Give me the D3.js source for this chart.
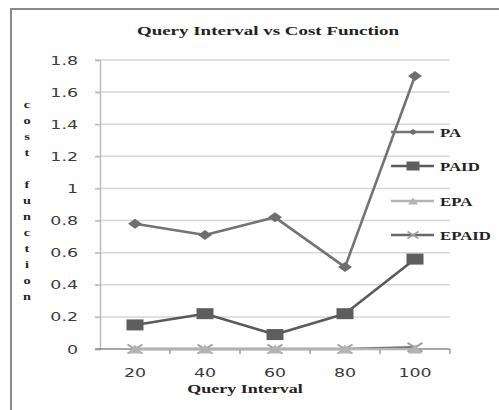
<!DOCTYPE html>
<html>
<head>
<meta charset="utf-8">
<script src="https://cdn.jsdelivr.net/npm/d3@7"></script>
<style>
  html, body { margin: 0; padding: 0; background: #fff; }
  svg { display: block; }
</style>
</head>
<body>
<script>
// Query interval categories and cost function values per algorithm
const categories = ["20", "40", "60", "80", "100"];
const seriesNames = ["PA", "PAID", "EPA", "EPAID"];
const valuesPA    = [0.78, 0.71, 0.82, 0.51, 1.70];
const valuesPAID  = [0.15, 0.22, 0.09, 0.22, 0.56];
const valuesEPA   = [0.00, 0.00, 0.00, 0.00, 0.00];
const valuesEPAID = [0.00, 0.00, 0.00, 0.00, 0.01];
const yTicks = [0, 0.2, 0.4, 0.6, 0.8, 1, 1.2, 1.4, 1.6, 1.8];
const yTickLabels = ["0", "0.2", "0.4", "0.6", "0.8", "1", "1.2", "1.4", "1.6", "1.8"];
const titleText = "Query Interval vs Cost Function";
const xTitleText = "Query Interval";
const yTitleText = "cost function";

const W = 499, H = 410;
const plot = { left: 100, right: 450, top: 60, bottom: 349 };
const SX = 1.45; // horizontal stretch of all lettering

const svg = d3.select("body").append("svg").attr("width", W).attr("height", H);

// outer frame
svg.append("rect").attr("x", 11).attr("y", 9).attr("width", 500).attr("height", 420)
  .attr("fill", "#fff").attr("stroke", "#8a8a8a").attr("stroke-width", 2);

const x = d3.scaleBand().domain(categories).range([plot.left, plot.right]);
const y = d3.scaleLinear().domain([0, 1.8]).range([plot.bottom, plot.top]);

function label(g, tx, ty, str, opts) {
  return g.append("text")
    .attr("transform", `translate(${tx},${ty}) scale(${opts.sx || SX},1)`)
    .attr("text-anchor", opts.anchor || "middle")
    .attr("font-family", opts.family)
    .attr("font-size", opts.size)
    .attr("font-weight", opts.weight || "normal")
    .attr("fill", opts.fill || "#222")
    .text(str);
}

// gridlines
svg.append("g").selectAll("line").data(yTicks.slice(1)).join("line")
  .attr("x1", plot.left - 5).attr("x2", plot.right)
  .attr("y1", d => y(d)).attr("y2", d => y(d))
  .attr("stroke", "#d6d6d6").attr("stroke-width", 1.5);

// y axis
const yAxis = svg.append("g").attr("transform", `translate(${plot.left},0)`)
  .call(d3.axisLeft(y).tickValues(yTicks).tickSize(5).tickFormat(""));
yAxis.select(".domain").attr("stroke", "#bdbdbd").attr("stroke-width", 1.5);
yAxis.selectAll(".tick line").attr("stroke", "#bdbdbd").attr("stroke-width", 1.5);

// x axis with ticks on category boundaries
const xAxisG = svg.append("g").attr("transform", `translate(0,${plot.bottom})`);
xAxisG.append("line").attr("x1", plot.left - 5).attr("x2", plot.right)
  .attr("stroke", "#8a8a8a").attr("stroke-width", 1.5);
xAxisG.selectAll("line.tk").data(categories).join("line").attr("class", "tk")
  .attr("x1", d => x(d) + x.bandwidth()).attr("x2", d => x(d) + x.bandwidth())
  .attr("y1", 0).attr("y2", 5).attr("stroke", "#8a8a8a").attr("stroke-width", 1.2);

// tick labels
const tickFont = { family: "DejaVu Sans", size: 12, fill: "#3a3a3a" };
yTicks.forEach((v, i) => {
  label(svg, 78, y(v) + 4.5, yTickLabels[i], Object.assign({ anchor: "end" }, tickFont));
});
categories.forEach(c => {
  label(svg, x(c) + x.bandwidth() / 2, 377, c, tickFont);
});

// titles
const serif = "Liberation Serif";
label(svg, 268, 35, titleText, { family: serif, size: 12, weight: "bold", fill: "#222", sx: 1.58 });
label(svg, 245, 393, xTitleText, { family: serif, size: 12, weight: "bold", fill: "#222", sx: 1.5 });
yTitleText.split("").forEach((ch, i) => {
  if (ch !== " ") label(svg, 27, 108 + i * 16, ch, { family: serif, size: 11, weight: "bold", fill: "#222", sx: 1.3 });
});

// marker shapes (wider than tall)
function diamond(w, h) { return `M0,${-h/2}L${w/2},0L0,${h/2}L${-w/2},0Z`; }
function square(w, h) { return `M${-w/2},${-h/2}H${w/2}V${h/2}H${-w/2}Z`; }
function triangle(w, h) { return `M0,${-h/2}L${w/2},${h/2}L${-w/2},${h/2}Z`; }
function cross(w, h) { return `M${-w/2},${-h/2}L${w/2},${h/2}M${w/2},${-h/2}L${-w/2},${h/2}`; }

const series = [
  { name: seriesNames[0], values: valuesPA, line: "#737373", marker: diamond(14, 10), legendMarker: diamond(9, 6), fill: "#6e6e6e", stroke: "none" },
  { name: seriesNames[1], values: valuesPAID, line: "#5a5a5a", marker: square(17, 11), legendMarker: square(13, 9), fill: "#5e5e5e", stroke: "none" },
  { name: seriesNames[2], values: valuesEPA, line: "#b3b3b3", marker: triangle(14, 9), legendMarker: triangle(10, 7), fill: "#b3b3b3", stroke: "none" },
  { name: seriesNames[3], values: valuesEPAID, line: "#686868", marker: cross(15, 9), legendMarker: cross(11, 7), fill: "none", stroke: "#a0a0a0" }
];

const lineGen = d3.line()
  .x((d, i) => x(categories[i]) + x.bandwidth() / 2)
  .y(d => y(d));

// draw from last to first so PA sits on top
series.slice().reverse().forEach(s => {
  const g = svg.append("g");
  g.append("path").datum(s.values).attr("d", lineGen)
    .attr("fill", "none").attr("stroke", s.line).attr("stroke-width", 2.6)
    .attr("stroke-linejoin", "round");
  g.selectAll("path.m").data(s.values).join("path").attr("class", "m")
    .attr("transform", (d, i) => `translate(${x(categories[i]) + x.bandwidth() / 2},${y(d)})`)
    .attr("d", s.marker)
    .attr("fill", s.fill).attr("stroke", s.stroke).attr("stroke-width", 2);
});

// legend
const legendY = [132, 166, 201, 235];
series.forEach((s, i) => {
  const g = svg.append("g").attr("transform", `translate(0,${legendY[i]})`);
  g.append("line").attr("x1", 391).attr("x2", 434).attr("stroke", s.line).attr("stroke-width", 2.4);
  g.append("path").attr("transform", "translate(413,0)").attr("d", s.legendMarker)
    .attr("fill", s.fill).attr("stroke", s.stroke).attr("stroke-width", 1.6);
  label(g, 440, 4.5, s.name, { family: serif, size: 12, weight: "bold", fill: "#222", anchor: "start", sx: 1.4 });
});
</script>
</body>
</html>
